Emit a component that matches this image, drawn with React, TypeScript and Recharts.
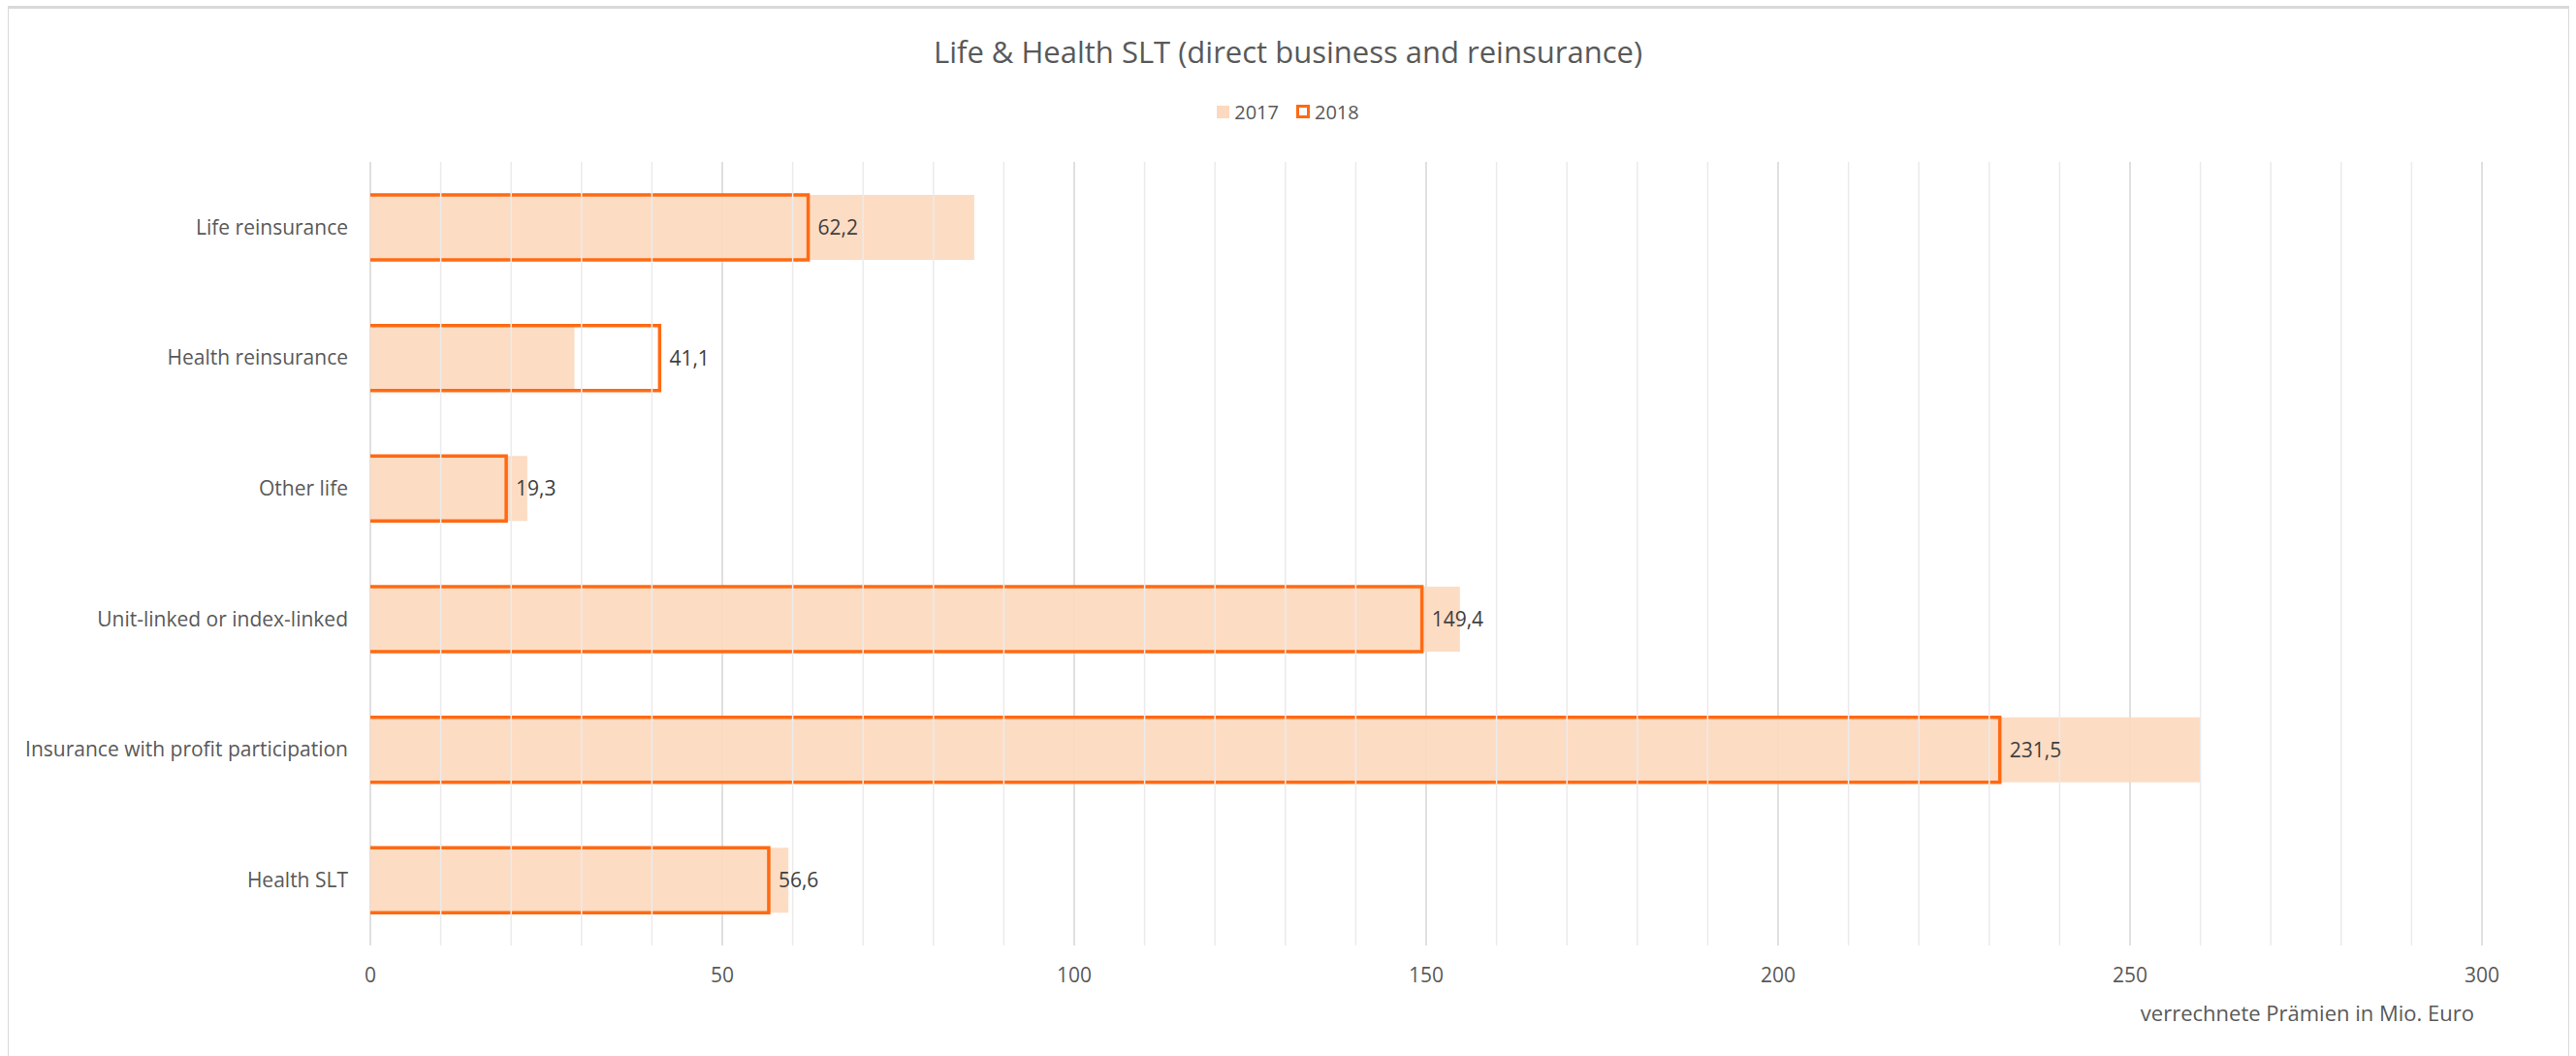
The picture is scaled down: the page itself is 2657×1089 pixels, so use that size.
import { BarChart, Bar, XAxis, YAxis, CartesianGrid, ReferenceLine, LabelList } from "recharts";

const categories = [
  "Life reinsurance",
  "Health reinsurance",
  "Other life",
  "Unit-linked or index-linked",
  "Insurance with profit participation",
  "Health SLT",
];
const values2017 = [85.8, 29.0, 22.3, 154.8, 260.0, 59.4];
const values2018 = [62.2, 41.1, 19.3, 149.4, 231.5, 56.6];
const majorTicks = [0, 50, 100, 150, 200, 250, 300];
const minorTicks = [10, 20, 30, 40, 60, 70, 80, 90, 110, 120, 130, 140, 160, 170, 180, 190, 210, 220, 230, 240, 260, 270, 280, 290];

const data = categories.map((name, i) => ({
  name,
  y2017: values2017[i],
  y2018: values2018[i],
}));

const FONT = "'Open Sans', sans-serif";
const ORANGE = "#FF6A13";
const PEACH = "#FDD9BF";

// 2018 series: outline only, open on the axis side
const OutlineBar = (props: any) => {
  const { x, y, width, height } = props;
  return (
    <path
      d={`M${x},${y} H${x + width} V${y + height} H${x}`}
      fill="none"
      stroke={ORANGE}
      strokeWidth={3.5}
    />
  );
};

export default function App() {
  return (
    <div style={{ position: "absolute", left: 0, top: 0, width: 2657, height: 1089, background: "#fff", overflow: "hidden", fontFamily: FONT }}>
      <div style={{ position: "absolute", left: 8, top: 6, width: 2640, height: 1100, borderTop: "3px solid #D9D9D9", borderLeft: "1px solid #D9D9D9", borderRight: "1px solid #D9D9D9" }} />
      <div style={{ position: "absolute", left: 0, width: 2657, top: 32, textAlign: "center", fontSize: 31, lineHeight: "42px", color: "#595959" }}>
        Life &amp; Health SLT (direct business and reinsurance)
      </div>
      {/* legend */}
      <div style={{ position: "absolute", left: 0, width: 2657, top: 101, height: 28, display: "flex", justifyContent: "center", alignItems: "center", fontSize: 20, color: "#595959" }}>
        <span style={{ width: 13, height: 13, background: PEACH, display: "inline-block", marginRight: 5 }} />
        <span style={{ marginRight: 18 }}>2017</span>
        <span style={{ width: 14, height: 14, border: `3px solid ${ORANGE}`, boxSizing: "border-box", display: "inline-block", marginRight: 5 }} />
        <span>2018</span>
      </div>
      <div style={{ position: "absolute", left: 0, top: 0 }}>
        <BarChart
          width={2657}
          height={1089}
          data={data}
          layout="vertical"
          margin={{ top: 167, right: 97, bottom: 74, left: 0 }}
          barSize={67}
          barGap={-67}
        >
          <CartesianGrid horizontal={false} stroke="#D6D6D6" strokeWidth={1.5} />
          {minorTicks.map((t) => (
            <ReferenceLine key={t} x={t} stroke="#EBEBEB" strokeWidth={1.5} />
          ))}
          <XAxis
            type="number"
            domain={[0, 300]}
            ticks={majorTicks}
            height={40}
            axisLine={false}
            tickLine={false}
            tickSize={0}
            tickMargin={23}
            tick={{ fill: "#595959", fontSize: 21, fontFamily: FONT }}
          />
          <YAxis
            type="category"
            dataKey="name"
            width={382}
            axisLine={false}
            tickLine={false}
            tickSize={0}
            tickMargin={23}
            tick={{ fill: "#595959", fontSize: 21, fontFamily: FONT }}
          />
          <Bar dataKey="y2017" fill={PEACH} fillOpacity={0.92} isAnimationActive={false} />
          <Bar dataKey="y2018" shape={OutlineBar} isAnimationActive={false}>
            <LabelList
              dataKey="y2018"
              position="right"
              offset={10}
              formatter={(v: any) => String(v).replace(".", ",")}
              style={{ fill: "#404040", fontSize: 21, fontFamily: FONT }}
            />
          </Bar>
        </BarChart>
      </div>
      <div style={{ position: "absolute", right: 2657 - 2552, top: 1029, fontSize: 22, lineHeight: "30px", color: "#595959", whiteSpace: "nowrap" }}>
        verrechnete Prämien in Mio. Euro
      </div>
    </div>
  );
}
